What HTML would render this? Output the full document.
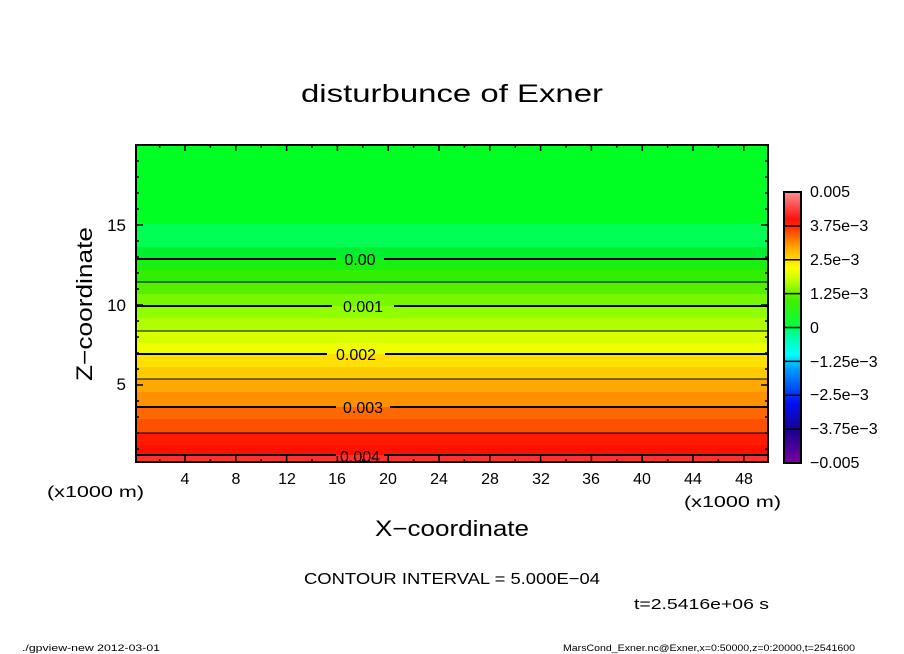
<!DOCTYPE html>
<html><head><meta charset="utf-8"><style>
html,body{margin:0;padding:0;background:#fff;}
svg{display:block;font-family:"Liberation Sans",sans-serif;}
</style></head><body>
<svg width="904" height="654" viewBox="0 0 904 654" xmlns="http://www.w3.org/2000/svg">
<rect width="904" height="654" fill="#fff"/>
<text x="301" y="102" font-size="25" textLength="302" lengthAdjust="spacingAndGlyphs">disturbunce of Exner</text>
<g>
<rect x="136" y="145" width="632" height="78" fill="#00ff22"/>
<rect x="136" y="223" width="632" height="24" fill="#00ff55"/>
<rect x="136" y="247" width="632" height="12" fill="#00f030"/>
<rect x="136" y="259" width="632" height="11" fill="#18f010"/>
<rect x="136" y="270" width="632" height="12" fill="#30f000"/>
<rect x="136" y="282" width="632" height="12" fill="#55f000"/>
<rect x="136" y="294" width="632" height="12" fill="#78f800"/>
<rect x="136" y="306" width="632" height="12" fill="#90ff00"/>
<rect x="136" y="318" width="632" height="13" fill="#b0ff00"/>
<rect x="136" y="331" width="632" height="12" fill="#d8ff00"/>
<rect x="136" y="343" width="632" height="11" fill="#f0ff00"/>
<rect x="136" y="354" width="632" height="13" fill="#ffe000"/>
<rect x="136" y="367" width="632" height="12" fill="#ffcc00"/>
<rect x="136" y="379" width="632" height="13" fill="#ffa800"/>
<rect x="136" y="392" width="632" height="15" fill="#ff9000"/>
<rect x="136" y="407" width="632" height="12" fill="#ff6800"/>
<rect x="136" y="419" width="632" height="14" fill="#ff5000"/>
<rect x="136" y="433" width="632" height="12" fill="#ff1a00"/>
<rect x="136" y="445" width="632" height="10" fill="#ff1000"/>
<rect x="136" y="455" width="632" height="7" fill="#ff3030"/>
</g>
<g stroke="#000" fill="none">
<path d="M136 259H336M384 259H768" stroke-width="2"/>
<path d="M136 282H768" stroke-width="1"/>
<path d="M136 306H332M394 306H768" stroke-width="2"/>
<path d="M136 331H768" stroke-width="1"/>
<path d="M136 354H327M385 354H768" stroke-width="2"/>
<path d="M136 379H768" stroke-width="1"/>
<path d="M136 407H336M390 407H768" stroke-width="2"/>
<path d="M136 433H768" stroke-width="1"/>
<path d="M136 455H336M384 455H768" stroke-width="2"/>
</g>
<g font-size="16" text-anchor="middle">
<text x="360" y="265">0.00</text>
<text x="363" y="312">0.001</text>
<text x="356" y="360">0.002</text>
<text x="363" y="413">0.003</text>
<text x="360" y="462">0.004</text>
</g>
<rect x="136" y="145" width="632" height="317" fill="none" stroke="#000" stroke-width="2"/>
<g stroke="#000" stroke-width="1.5">
<path d="M185 462v-6M235.8 462v-6M286.6 462v-6M337.4 462v-6M388.2 462v-6M439 462v-6M489.8 462v-6M540.6 462v-6M591.4 462v-6M642.2 462v-6M693 462v-6M743.8 462v-6
M185 145v6M235.8 145v6M286.6 145v6M337.4 145v6M388.2 145v6M439 145v6M489.8 145v6M540.6 145v6M591.4 145v6M642.2 145v6M693 145v6M743.8 145v6
M159.6 462v-3M210.4 462v-3M261.2 462v-3M312 462v-3M362.8 462v-3M413.6 462v-3M464.4 462v-3M515.2 462v-3M566 462v-3M616.8 462v-3M667.6 462v-3M718.4 462v-3
M159.6 145v3M210.4 145v3M261.2 145v3M312 145v3M362.8 145v3M413.6 145v3M464.4 145v3M515.2 145v3M566 145v3M616.8 145v3M667.6 145v3M718.4 145v3
M136 385h7M136 305h7M136 225h7M768 385h-7M768 305h-7M768 225h-7
M136 449h3M136 433h3M136 417h3M136 401h3M136 369h3M136 353h3M136 337h3M136 321h3M136 289h3M136 273h3M136 257h3M136 241h3M136 209h3M136 193h3M136 177h3M136 161h3
M768 449h-3M768 433h-3M768 417h-3M768 401h-3M768 369h-3M768 353h-3M768 337h-3M768 321h-3M768 289h-3M768 273h-3M768 257h-3M768 241h-3M768 209h-3M768 193h-3M768 177h-3M768 161h-3"/>
</g>
<g font-size="16" text-anchor="middle">
<text x="185" y="484">4</text><text x="236" y="484">8</text><text x="287" y="484">12</text><text x="337" y="484">16</text>
<text x="388" y="484">20</text><text x="439" y="484">24</text><text x="490" y="484">28</text><text x="541" y="484">32</text>
<text x="591" y="484">36</text><text x="642" y="484">40</text><text x="693" y="484">44</text><text x="744" y="484">48</text>
</g>
<g font-size="17" text-anchor="end">
<text x="126" y="231">15</text><text x="126" y="311">10</text><text x="126" y="390">5</text>
</g>
<text x="47" y="497" font-size="16" textLength="97" lengthAdjust="spacingAndGlyphs">(x1000 m)</text>
<text x="684" y="507" font-size="16" textLength="97" lengthAdjust="spacingAndGlyphs">(x1000 m)</text>
<text x="375" y="536" font-size="22" textLength="154" lengthAdjust="spacingAndGlyphs">X−coordinate</text>
<text x="92" y="304" font-size="22" text-anchor="middle" transform="rotate(-90 92 304)" textLength="154" lengthAdjust="spacingAndGlyphs">Z−coordinate</text>
<text x="304" y="584" font-size="16" textLength="296" lengthAdjust="spacingAndGlyphs">CONTOUR INTERVAL = 5.000E−04</text>
<text x="634" y="609" font-size="15" textLength="135" lengthAdjust="spacingAndGlyphs">t=2.5416e+06 s</text>
<text x="22" y="651" font-size="9" textLength="138" lengthAdjust="spacingAndGlyphs">./gpview-new  2012-03-01</text>
<text x="563" y="651" font-size="9" textLength="292" lengthAdjust="spacingAndGlyphs">MarsCond_Exner.nc@Exner,x=0:50000,z=0:20000,t=2541600</text>
<defs>
<linearGradient id="cb" x1="0" y1="1" x2="0" y2="0">
<stop offset="0" stop-color="#7a00a0"/>
<stop offset="0.12" stop-color="#1a0090"/>
<stop offset="0.22" stop-color="#0010f0"/>
<stop offset="0.35" stop-color="#00a0ff"/>
<stop offset="0.4" stop-color="#00ffff"/>
<stop offset="0.48" stop-color="#00ff90"/>
<stop offset="0.5" stop-color="#00ff40"/>
<stop offset="0.6" stop-color="#40f000"/>
<stop offset="0.68" stop-color="#c8ff00"/>
<stop offset="0.72" stop-color="#ffff00"/>
<stop offset="0.8" stop-color="#ffa000"/>
<stop offset="0.87" stop-color="#ff3000"/>
<stop offset="0.9" stop-color="#ff1010"/>
<stop offset="1" stop-color="#ff9090"/>
</linearGradient>
</defs>
<rect x="784" y="192" width="17" height="271" fill="url(#cb)"/>
<g stroke="#000" stroke-width="1.5">
<path d="M784 225.9h17M784 259.8h17M784 293.6h17M784 327.5h17M784 361.4h17M784 395.3h17M784 429.1h17"/>
</g>
<rect x="784" y="192" width="17" height="271" fill="none" stroke="#000" stroke-width="2"/>
<g font-size="16">
<text x="810" y="197">0.005</text>
<text x="810" y="231">3.75e−3</text>
<text x="810" y="265">2.5e−3</text>
<text x="810" y="299">1.25e−3</text>
<text x="810" y="333">0</text>
<text x="810" y="367">−1.25e−3</text>
<text x="810" y="400">−2.5e−3</text>
<text x="810" y="434">−3.75e−3</text>
<text x="810" y="468">−0.005</text>
</g>
</svg>
</body></html>
